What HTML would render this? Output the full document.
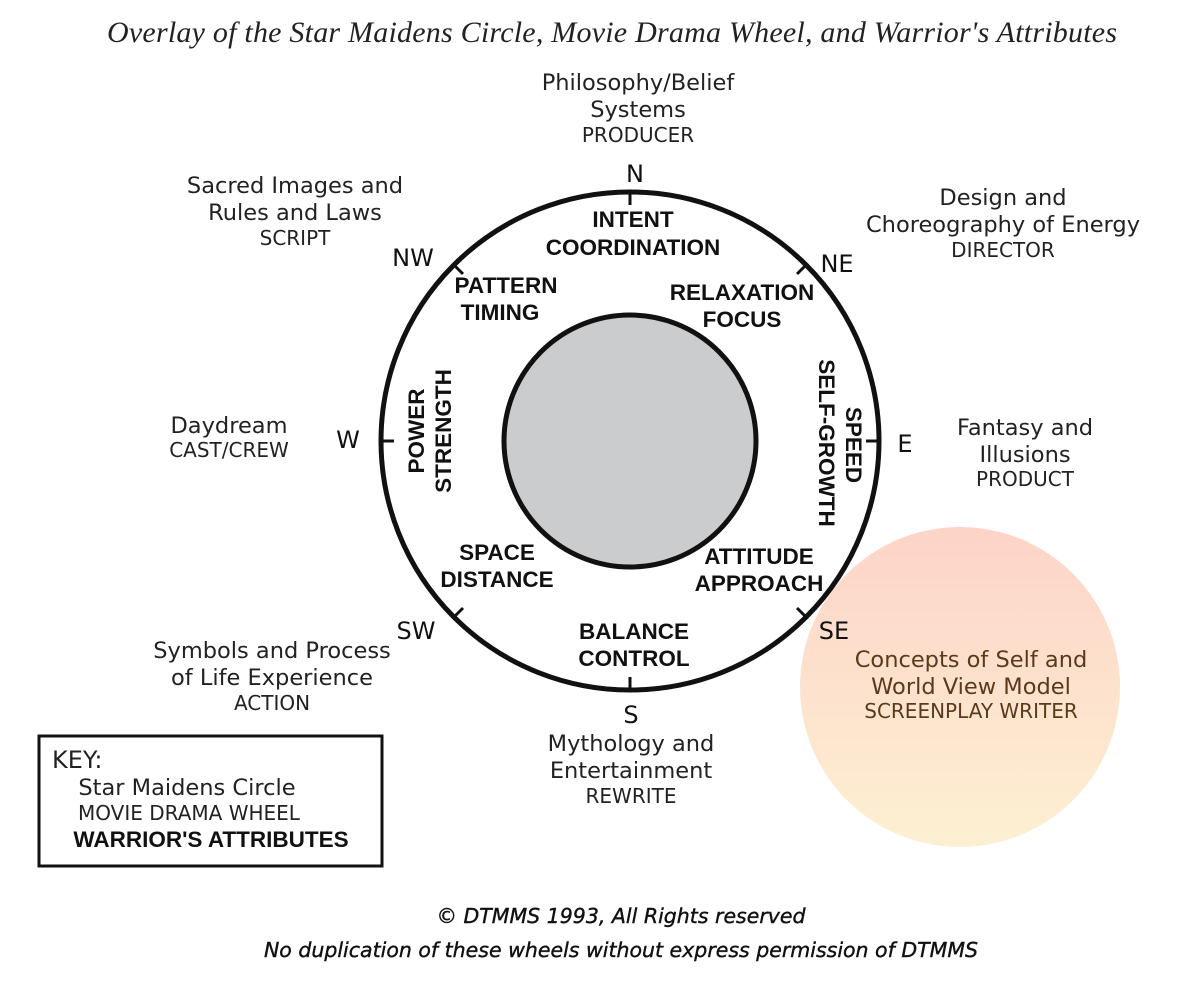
<!DOCTYPE html>
<html><head><meta charset="utf-8"><style>
body{margin:0;background:#fff;}
svg{display:block}
</style></head><body>
<svg width="1201" height="1001" xmlns="http://www.w3.org/2000/svg">
<defs>
<linearGradient id="pg" x1="0" y1="0" x2="0" y2="1">
<stop offset="0" stop-color="#fdd4c8"/><stop offset="1" stop-color="#fdf0d2"/>
</linearGradient>
</defs>
<rect width="1201" height="1001" fill="#fff"/>
<text x="612" y="42" text-anchor="middle" font-family="Liberation Serif" font-style="italic" font-size="30" fill="#222" textLength="1010">Overlay of the Star Maidens Circle, Movie Drama Wheel, and Warrior's Attributes</text>
<circle cx="960" cy="687" r="160" fill="url(#pg)"/>
<circle cx="630" cy="441" r="249" fill="none" stroke="#111" stroke-width="5"/>
<circle cx="630" cy="441" r="126" fill="#cbcccd" stroke="#111" stroke-width="5"/>
<g stroke="#111" stroke-width="3">
<line x1="630" y1="192" x2="630" y2="205"/>
<line x1="630" y1="690" x2="630" y2="677"/>
<line x1="381" y1="441" x2="394" y2="441"/>
<line x1="879" y1="441" x2="866" y2="441"/>
<line x1="454" y1="265" x2="463" y2="274"/>
<line x1="806" y1="265" x2="797" y2="274"/>
<line x1="454" y1="617" x2="463" y2="608"/>
<line x1="806" y1="617" x2="797" y2="608"/>
</g>
<g font-family="DejaVu Sans, Liberation Sans, sans-serif" font-size="24" fill="#111" text-anchor="middle">
<text x="635" y="182">N</text>
<text x="413" y="266">NW</text>
<text x="837" y="272">NE</text>
<text x="348" y="448">W</text>
<text x="905" y="452">E</text>
<text x="416" y="639">SW</text>
<text x="834" y="639">SE</text>
<text x="631" y="723">S</text>
</g>
<g font-family="Liberation Sans, sans-serif" font-weight="bold" font-size="22.5" fill="#111" text-anchor="middle">
<text x="633" y="227">INTENT</text><text x="633" y="255">COORDINATION</text>
<text x="506" y="293">PATTERN</text><text x="500" y="320">TIMING</text>
<text x="742" y="300">RELAXATION</text><text x="742" y="327">FOCUS</text>
<text x="497" y="560">SPACE</text><text x="497" y="587">DISTANCE</text>
<text x="759" y="564">ATTITUDE</text><text x="759" y="591">APPROACH</text>
<text x="634" y="639">BALANCE</text><text x="634" y="666">CONTROL</text>
<text transform="translate(424,431) rotate(-90)">POWER</text>
<text transform="translate(451,431) rotate(-90)">STRENGTH</text>
<text transform="translate(846,445) rotate(90)">SPEED</text>
<text transform="translate(819,443) rotate(90)">SELF-GROWTH</text>
<text x="211" y="847">WARRIOR'S ATTRIBUTES</text>
</g>
<g font-family="DejaVu Sans, Liberation Sans, sans-serif" fill="#222" text-anchor="middle">
<g font-size="22.5">
<text x="638" y="90">Philosophy/Belief</text><text x="638" y="117">Systems</text>
<text x="295" y="193">Sacred Images and</text><text x="295" y="220">Rules and Laws</text>
<text x="1003" y="205">Design and</text><text x="1003" y="232">Choreography of Energy</text>
<text x="229" y="433">Daydream</text>
<text x="1025" y="435">Fantasy and</text><text x="1025" y="462">Illusions</text>
<text x="272" y="658">Symbols and Process</text><text x="272" y="685">of Life Experience</text>
<text x="631" y="751">Mythology and</text><text x="631" y="778">Entertainment</text>
<text x="971" y="667" fill="#5a3a1a">Concepts of Self and</text><text x="971" y="694" fill="#5a3a1a">World View Model</text>
<text x="187" y="795">Star Maidens Circle</text>
</g>
<g font-size="20">
<text x="638" y="142">PRODUCER</text>
<text x="295" y="245">SCRIPT</text>
<text x="1003" y="257">DIRECTOR</text>
<text x="229" y="457">CAST/CREW</text>
<text x="1025" y="486">PRODUCT</text>
<text x="272" y="710">ACTION</text>
<text x="631" y="803">REWRITE</text>
<text x="971" y="718" fill="#5a3a1a">SCREENPLAY WRITER</text>
<text x="189" y="820">MOVIE DRAMA WHEEL</text>
</g>
<text x="52" y="768" font-size="24" text-anchor="start">KEY:</text>
</g>
<rect x="39" y="736" width="343" height="130" fill="none" stroke="#111" stroke-width="3"/>
<g font-family="DejaVu Sans, Liberation Sans, sans-serif" font-style="italic" font-size="20.5" fill="#111" text-anchor="middle" stroke="#111" stroke-width="0.4">
<text x="621" y="923">© DTMMS 1993, All Rights reserved</text>
<text x="621" y="957">No duplication of these wheels without express permission of DTMMS</text>
</g>
</svg>
</body></html>
